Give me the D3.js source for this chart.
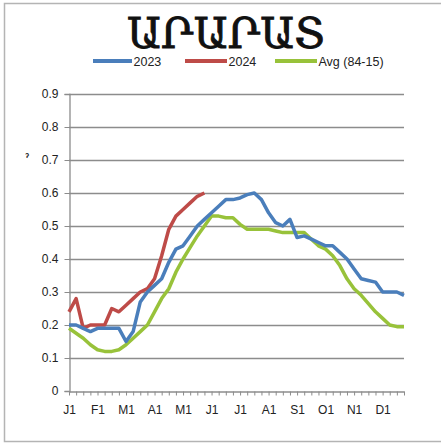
<!DOCTYPE html>
<html>
<head>
<meta charset="utf-8">
<script src="https://cdn.jsdelivr.net/npm/d3@7"></script>
<style>
	body { margin: 0; background: #fff; }
	svg { display: block; }
</style>
</head>
<body>
<div id="chart"></div>
<script>
// weekly points, 4 per month
var monthLabels = ["J1", "F1", "M1", "A1", "M1", "J1", "J1", "A1", "S1", "O1", "N1", "D1"];
var yTicks = [0, 0.1, 0.2, 0.3, 0.4, 0.5, 0.6, 0.7, 0.8, 0.9];
var seriesNames = ["2023", "2024", "Avg (84-15)"];

var values2023 = [0.20, 0.20, 0.19, 0.18, 0.19, 0.19, 0.19, 0.19, 0.15, 0.18,
	0.27, 0.30, 0.32, 0.34, 0.39, 0.43, 0.44, 0.47, 0.50, 0.52,
	0.54, 0.56, 0.58, 0.58, 0.585, 0.595, 0.60, 0.58, 0.54, 0.51,
	0.50, 0.52, 0.465, 0.47, 0.46, 0.45, 0.44, 0.44, 0.42, 0.40,
	0.37, 0.34, 0.335, 0.33, 0.30, 0.30, 0.30, 0.29];

var values2024 = [0.24, 0.28, 0.19, 0.20, 0.20, 0.20, 0.25, 0.24, 0.26, 0.28,
	0.30, 0.31, 0.34, 0.41, 0.49, 0.53, 0.55, 0.57, 0.59, 0.60];

var valuesAvg = [0.19, 0.175, 0.16, 0.14, 0.125, 0.12, 0.12, 0.125, 0.14, 0.16,
	0.18, 0.20, 0.24, 0.28, 0.31, 0.36, 0.40, 0.435, 0.47, 0.50,
	0.53, 0.53, 0.525, 0.525, 0.505, 0.49, 0.49, 0.49, 0.49, 0.485,
	0.48, 0.48, 0.48, 0.48, 0.46, 0.44, 0.43, 0.41, 0.38, 0.34,
	0.31, 0.29, 0.265, 0.24, 0.22, 0.20, 0.195, 0.195];

var colors = ["#4a7ebb", "#be4b48", "#98c23a"];

var W = 441, H = 443;
var plot = { left: 69, right: 404, top: 94, bottom: 391 };

var svg = d3.select("#chart").append("svg")
	.attr("width", W)
	.attr("height", H);

svg.append("rect")
	.attr("width", W).attr("height", H)
	.attr("fill", "#fff");

// outer frame
svg.append("rect")
	.attr("x", 4.5).attr("y", 3.5)
	.attr("width", W).attr("height", 438)
	.attr("fill", "none")
	.attr("stroke", "#b4b4b4")
	.attr("stroke-width", 1.5);

var x = d3.scaleLinear().domain([0, 47]).range([plot.left, plot.right]);
var y = d3.scaleLinear().domain([0, 0.9]).range([plot.bottom, plot.top]);

// title
svg.append("text")
	.attr("x", 226).attr("y", 48)
	.attr("text-anchor", "middle")
	.style("font-family", "'DejaVu Serif', serif")
	.style("font-size", "42px")
	.style("fill", "#111")
	.style("stroke", "#111")
	.style("stroke-width", "0.9px")
	.text("ԱՐԱՐԱՏ");

// gridlines
svg.append("g").selectAll("line")
	.data(yTicks.filter(function(d){ return d > 0; }))
	.enter().append("line")
	.attr("x1", plot.left).attr("x2", plot.right)
	.attr("y1", function(d){ return Math.round(y(d)) + 0.5; })
	.attr("y2", function(d){ return Math.round(y(d)) + 0.5; })
	.attr("stroke", "#8c8c8c")
	.attr("stroke-width", 1.3);

// y axis
var yAxis = d3.axisLeft(y)
	.tickValues(yTicks)
	.tickSize(5)
	.tickFormat(function(d){ return d === 0 ? "0" : d3.format(".1f")(d); });

var gy = svg.append("g")
	.attr("transform", "translate(" + (plot.left + 0.5) + ",0)")
	.call(yAxis);
gy.select(".domain").attr("stroke", "#8c8c8c").attr("stroke-width", 1.3);
gy.selectAll(".tick line").attr("stroke", "#8c8c8c");
gy.selectAll(".tick text")
	.attr("x", -11)
	.style("font-family", "'Liberation Sans', Arial, sans-serif")
	.style("font-size", "12px")
	.style("fill", "#222");

// x axis, one tick per week, label on the first week of each month
var xAxis = d3.axisBottom(x)
	.tickValues(d3.range(0, 48))
	.tickSize(4)
	.tickSizeOuter(0)
	.tickFormat(function(d){ return d % 4 === 0 ? monthLabels[d / 4] : ""; });

var gx = svg.append("g")
	.attr("transform", "translate(0," + (plot.bottom + 0.5) + ")")
	.call(xAxis);
gx.select(".domain").attr("stroke", "#8c8c8c").attr("stroke-width", 1.3);
gx.selectAll(".tick line").attr("stroke", "#8c8c8c");
gx.selectAll(".tick text")
	.attr("y", 14)
	.style("font-family", "'Liberation Sans', Arial, sans-serif")
	.style("font-size", "12px")
	.style("fill", "#222");

// faint clipped axis title mark
svg.append("text")
	.attr("x", 25).attr("y", 161)
	.style("font-family", "'Liberation Sans', Arial, sans-serif")
	.style("font-size", "11px")
	.style("font-weight", "bold")
	.style("fill", "#222")
	.text("ˀ");

// lines
var line = d3.line()
	.x(function(d, i){ return x(i); })
	.y(function(d){ return y(d); });

var seriesList = [values2023, values2024, valuesAvg];
var drawOrder = [2, 1, 0];

drawOrder.forEach(function(k){
	svg.append("path")
		.datum(seriesList[k])
		.attr("d", line)
		.attr("fill", "none")
		.attr("stroke", colors[k])
		.attr("stroke-width", 3.5)
		.attr("stroke-linejoin", "round");
});

// legend
var legendItems = [
	{ x1: 93, x2: 132 },
	{ x1: 185, x2: 227 },
	{ x1: 275, x2: 317 }
];
var legend = svg.append("g");
legendItems.forEach(function(item, i){
	legend.append("line")
		.attr("x1", item.x1).attr("x2", item.x2)
		.attr("y1", 61).attr("y2", 61)
		.attr("stroke", colors[i])
		.attr("stroke-width", 4);
	legend.append("text")
		.attr("x", item.x2 + 1.5).attr("y", 65.5)
		.style("font-family", "'Liberation Sans', Arial, sans-serif")
		.style("font-size", "12.5px")
		.style("fill", "#222")
		.text(seriesNames[i]);
});
</script>
</body>
</html>
